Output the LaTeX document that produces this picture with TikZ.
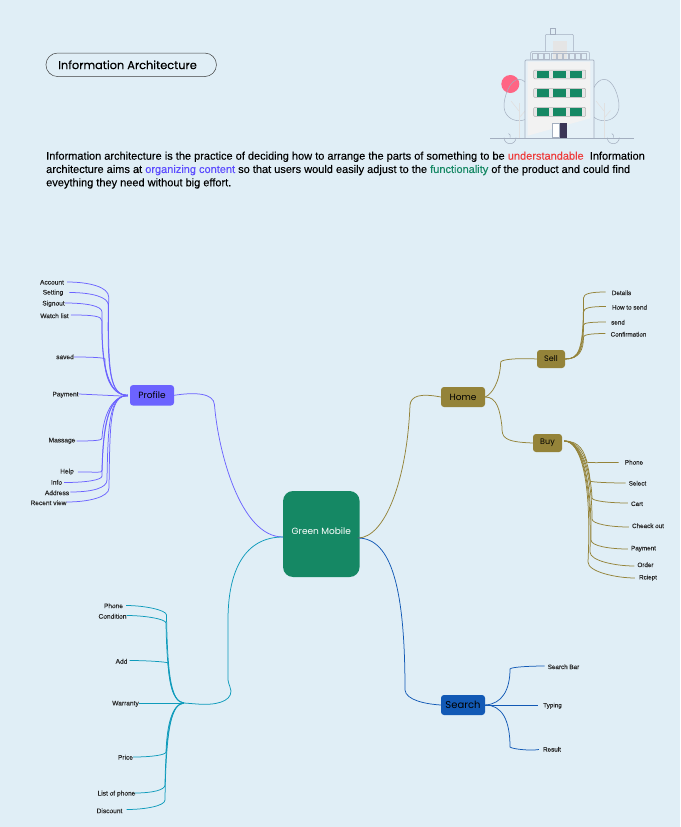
\documentclass[tikz,border=0pt]{standalone}
\usepackage{fontspec}
\setmainfont{Liberation Sans}
\newfontfamily\popfont{Poppins}
\newfontfamily\popheavy[FakeBold=0.25]{Poppins}
\newfontfamily\bodyfont[FakeBold=0.12]{Liberation Sans}
\definecolor{pagebg}{HTML}{E0EEF6}
\definecolor{gmgreen}{HTML}{158864}
\definecolor{violetline}{HTML}{6C63FF}
\definecolor{oliveline}{HTML}{948339}
\definecolor{blueline}{HTML}{1259B5}
\definecolor{tealline}{HTML}{0E9BBB}
\definecolor{outlinegray}{HTML}{A3AEBF}
\definecolor{wordred}{HTML}{EE3B3B}
\definecolor{wordviolet}{HTML}{5B4BFF}
\definecolor{pinkdot}{HTML}{FF6584}
\definecolor{doordark}{HTML}{3B3556}
\tikzset{
  x=1pt, y=-1pt,
  leaf/.style={font=\bodyfont\fontsize{6.6}{8}\selectfont, text=black!85, inner sep=0pt, anchor=center, yshift=-0.8pt},
  smallleaf/.style={leaf, font=\bodyfont\fontsize{6.3}{8}\selectfont},
  topic/.style={rounded corners=3pt, font=\popfont\fontsize{9}{11}\selectfont, text=black, inner sep=0pt, anchor=center},
  vio/.style={draw=violetline, line width=0.75pt},
  oli/.style={draw=oliveline, line width=0.75pt},
  blu/.style={draw=blueline, line width=0.75pt},
  tea/.style={draw=tealline, line width=0.75pt},
  bline/.style={draw=outlinegray, line width=0.5pt},
  pane/.style={fill=gmgreen},
}
\begin{document}
\begin{tikzpicture}
\useasboundingbox (0,0) rectangle (680,827);
\fill[pagebg] (0,0) rectangle (680,827);

% heading pill and intro text
\node[draw=black!75, line width=0.5pt, rounded corners=11.7pt, minimum width=170.5pt, minimum height=23.5pt, inner sep=0pt,
      anchor=center, font=\popheavy\fontsize{11.35}{14}\selectfont] (title) at (131.2,64.8) {\hspace{-7.4pt}Information Architecture};
\node[anchor=north west, inner sep=0pt, align=left, font=\bodyfont\fontsize{11}{13.3}\selectfont] (intro) at (46,151.5)
 {Information architecture is the practice of deciding how to arrange the parts of something to be \textcolor{wordred}{understandable}\ \ Information\\
  architecture aims at \textcolor{wordviolet}{organizing content} so that users would easily adjust to the \textcolor{gmgreen}{functionality} of the product and could find\\
  eveything they need without big effort.};

% office building illustration: accent dot, then trees behind the block
\fill[pinkdot] (510.3,84) circle[radius=9];
\foreach \cx in {519,604}{
  \draw[bline] (\cx,79.3) .. controls (\cx+9,79.3) and (\cx+15,96) .. (\cx+15,106)
     .. controls (\cx+15,115) and (\cx+8,120.7) .. (\cx,120.7)
     .. controls (\cx-8,120.7) and (\cx-15,115) .. (\cx-15,106)
     .. controls (\cx-15,96) and (\cx-9,79.3) .. (\cx,79.3);
  \draw[black!12, line width=0.6pt] (\cx,103) -- (\cx,138);
  \draw[black!12, line width=0.6pt] (\cx-8,101) -- (\cx,111);
  \draw[black!12, line width=0.6pt] (\cx+6.5,110.5) -- (\cx,118);
}
% chimney, penthouse, parapet
\draw[bline] (550.7,28.3) rectangle (555.3,34.3);
\draw[bline, rounded corners=1pt] (545.3,51.7) -- (545.3,34.3) -- (573.3,34.3) -- (573.3,51.7);
\fill[black!10] (553,41) rectangle (566.7,59.3);
\draw[bline, rounded corners=1pt] (530.7,60) -- (530.7,51.7) -- (589.3,51.7) -- (589.3,60);
\foreach \i in {0,...,8}{
  \draw[draw=outlinegray!80, line width=0.4pt] (532.3+6.15*\i,53.5) rectangle (537.3+6.15*\i,59.3);
}
% main block
\fill[pagebg!85!white] (525,60) rectangle (594,138);
\draw[bline, line width=0.7pt, rounded corners=1pt] (525,138) -- (525,60) -- (594,60) -- (594,138);
\fill[black!5] (527.7,61.7) -- (590.3,61.7) -- (590.3,118.3) -- (527.7,135.7) -- cycle;
% window rows
\foreach \wy/\wh in {70/8.8,88.4/9,107.4/9}{
  \draw[black!30, fill=white!90!black, line width=0.5pt, rounded corners=1pt] (533.7,\wy) rectangle (585.7,\wy+\wh);
  \fill[pane] (537.3,\wy+0.5) rectangle (549.3,\wy+\wh-0.5);
  \fill[pane] (553.3,\wy+0.5) rectangle (565.7,\wy+\wh-0.5);
  \fill[pane] (570,\wy+0.5) rectangle (581.7,\wy+\wh-0.5);
}
% door
\draw[bline, fill=white] (552.3,123.3) rectangle (559.7,137.7);
\fill[doordark] (559.7,123.3) rectangle (566.7,137.7);
% ground and shrubs
\draw[bline] (504,137.7) arc[start angle=180, end angle=0, radius=6];
\draw[bline] (607.3,137.7) arc[start angle=180, end angle=0, radius=6];
\draw[bline] (510,137.7) -- (510,134.5) (508.5,133.5) -- (510,135);
\draw[bline] (613.3,137.7) -- (613.3,134.5) (611.8,133.5) -- (613.3,135);
\draw[bline, line width=0.7pt] (490,138) -- (634,138);

% mind map: central topic
\node[fill=gmgreen, rounded corners=10pt, minimum width=76.5pt, minimum height=86pt, inner sep=0pt, anchor=center,
      label={[font=\popfont\fontsize{9}{11}\selectfont, text=white, yshift=3pt]center:Green Mobile}] (gm) at (321.3,534) {};

% main topics
\node[topic, fill=violetline, minimum width=44pt, minimum height=20.5pt] (profile) at (152,395.3) {Profile};
\node[topic, fill=oliveline, minimum width=44pt, minimum height=20pt] (home) at (463,397) {Home};
\node[topic, fill=oliveline, minimum width=28pt, minimum height=18pt, font=\popfont\fontsize{8}{10}\selectfont] (sell) at (551,359) {Sell};
\node[topic, fill=oliveline, minimum width=29pt, minimum height=18pt, font=\popfont\fontsize{8}{10}\selectfont] (buy) at (547.5,443) {Buy};
\node[topic, fill=blueline, minimum width=44pt, minimum height=20pt, font=\popfont\fontsize{10}{12}\selectfont] (search) at (463,705) {Search};
\coordinate (tealhub) at (184,703);

% trunk connectors
\draw[vio] (profile.east) .. controls (195,392) and (214,393) .. (214.5,405)
   .. controls (218,450) and (240,537) .. (283,537);
\draw[oli] ([xshift=-2pt,yshift=-4pt]gm.east) .. controls (385,538) and (407,480) .. (410,405)
   .. controls (411,396) and (420,393) .. (home.west);
\draw[blu] ([xshift=-2pt,yshift=-4pt]gm.east) .. controls (392,538) and (405,590) .. (405,690)
   .. controls (406,700) and (425,704) .. (search.west);
\draw[tea] (283,537) .. controls (245,537) and (228,570) .. (228,620) -- (228,680)
   .. controls (229,686) and (231,688) .. (231,691)
   .. controls (231,702) and (215,705.5) .. (197,704) -- (tealhub);
\draw[oli] (home.east) .. controls (492,394) and (500,382) .. (500.7,362)
   .. controls (502,359) and (520,358) .. (sell.west);
\draw[oli] (home.east) .. controls (497,397) and (500,410) .. (502,427)
   .. controls (502,437) and (503,442) .. (buy.west);

% Profile branches
\foreach \n/\t/\lx/\ly in {acct/Account/52/281.5,setg/Setting/53/292,sgno/Signout/53.5/303,wlst/Watch list/54.5/315,svd/saved/65/356,
  pay/Payment/65.5/394,mass/Massage/62/440,hlp/Help/67/471,inf/Info/56.5/481.5,addr/Address/57/492,rcnt/Recent view/48.5/502}
  {\node[leaf] (\n) at (\lx,\ly) {\t};}
\foreach \n/\tx/\ey/\k/\dx/\dy in {acct/108.7/297/-10/3/-0.5,setg/108.3/305/-8/6/-0.5,sgno/102/312/-6/0/0,wlst/102/321/-5/2/0,svd/105/359/-1/0/-1}
  \draw[vio] ([xshift=-2pt]profile.west) .. controls +(-18,0) and (\tx-1,372) .. (\tx,\ey)
     .. controls +(0,\k) and +(22,0) .. ([xshift=\dx pt,yshift=\dy pt+0.8pt]\n.east);
\foreach \n/\tx/\ey/\k/\dx/\dy in {mass/102/438/2/1/-1,hlp/102/470/3/4/-1,inf/102/476/4/2/-1,addr/107/480/8/1/0,rcnt/109/488/9/0/0}
  \draw[vio] ([xshift=-2pt]profile.west) .. controls +(-18,1) and (\tx+1,420) .. (\tx,\ey)
     .. controls +(0,\k) and +(22,0) .. ([xshift=\dx pt,yshift=\dy pt+0.8pt]\n.east);
\draw[vio] ([yshift=0.8pt]pay.east) -- ([xshift=-2pt,yshift=-1pt]profile.west);

% Sell branches
\foreach \n/\t/\lx/\ly in {det/Details/621.5/292,hts/How to send/629.5/306.5,snd/send/618/321.5,cnf/Confirmation/628.5/333.5}
  {\node[smallleaf] (\n) at (\lx,\ly) {\t};}
\foreach \n/\ey/\k/\dx/\dy in {det/298/-4/-6/0,hts/312/-4/-6/0,snd/325/-2/-5/-0.5,cnf/337/-2/-5/0}
  \draw[oli] (sell.east) .. controls +(14,0) and (583.5,350) .. (583.5,\ey)
     .. controls +(0,\k) and +(-16,0) .. ([xshift=\dx pt,yshift=\dy pt+0.8pt]\n.west);

% Buy branches: the curves share one bundle before fanning out to the labels
\foreach \n/\t/\lx/\ly in {bph/Phone/634/461.5,bse/Select/637.5/482.5,bca/Cart/637/503,bch/Cheack out/648/525,bpa/Payment/643.5/548,bor/Order/645.5/564,brc/Rciept/648/577}
  {\node[smallleaf] (\n) at (\lx,\ly) {\t};}
\foreach \n/\tx/\ey/\k/\dx/\dy/\cx/\cy in {bph/587/462/1/-6/-1/584/452,bse/590/481/1/-3/-0.5/589/462,bca/592/498/3/-3/0/591/470,bch/592/519/5/-3/-2/592/472,bpa/591/540/6/-3/-1/592/474,bor/590/552/9/-3/-2/592/476,brc/588/562/10/-4/-1/592/478}
  \draw[oli] ([xshift=2pt,yshift=2pt]buy.east) .. controls +(16,0) and (\cx,\cy) .. (\tx,\ey)
     .. controls +(0,\k) and +(-18,0) .. ([xshift=\dx pt,yshift=\dy pt+0.8pt]\n.west);

% Search branches
\foreach \n/\t/\lx/\ly in {sbar/Search Bar/563.5/666,styp/Typing/552.5/705,sres/Result/552/748.5}
  {\node[smallleaf] (\n) at (\lx,\ly) {\t};}
\draw[blu] (search.east) .. controls (502,704) and (510,690) .. (510,669)
   .. controls (511,667) and (530,666) .. ([xshift=-3pt,yshift=0.8pt]sbar.west);
\draw[blu] (search.east) -- ([xshift=-5pt,yshift=0.8pt]styp.west);
\draw[blu] (search.east) .. controls (502,705) and (510,720) .. (510,747)
   .. controls (512,749) and (530,751) .. ([xshift=-4pt,yshift=-0.2pt]sres.west);

% teal branches
\foreach \n/\t/\lx/\ly in {tph/Phone/113.5/605,tcd/Condition/112.5/615.5,tad/Add/121.5/660.5,twr/Warranty/125.5/703,tpr/Price/125.5/756.5,tls/List of phone/116.5/793,tds/Discount/109.5/810}
  {\node[leaf] (\n) at (\lx,\ly) {\t};}
\foreach \n/\tx/\ey/\k/\dx/\dy in {tph/166.5/615/-5/3/-0.5,tcd/166/623/-4/0/0,tad/168/663/-1/2/0}
  \draw[tea] (tealhub) .. controls +(-12,-1) and (\tx+1,680) .. (\tx,\ey)
     .. controls +(0,\k) and +(18,0) .. ([xshift=\dx pt,yshift=\dy pt+0.8pt]\n.east);
\foreach \n/\tx/\ey/\k/\dx/\dy in {tpr/166/752/3/0/-0.5,tls/165/785/5/-1/0,tds/165/800/6/4/0.5}
  \draw[tea] (tealhub) .. controls +(-12,1) and (\tx+1,725) .. (\tx,\ey)
     .. controls +(0,\k) and +(18,0) .. ([xshift=\dx pt,yshift=\dy pt+0.8pt]\n.east);
\draw[tea] ([yshift=0.8pt]twr.east) -- (tealhub);
\end{tikzpicture}
\end{document}
